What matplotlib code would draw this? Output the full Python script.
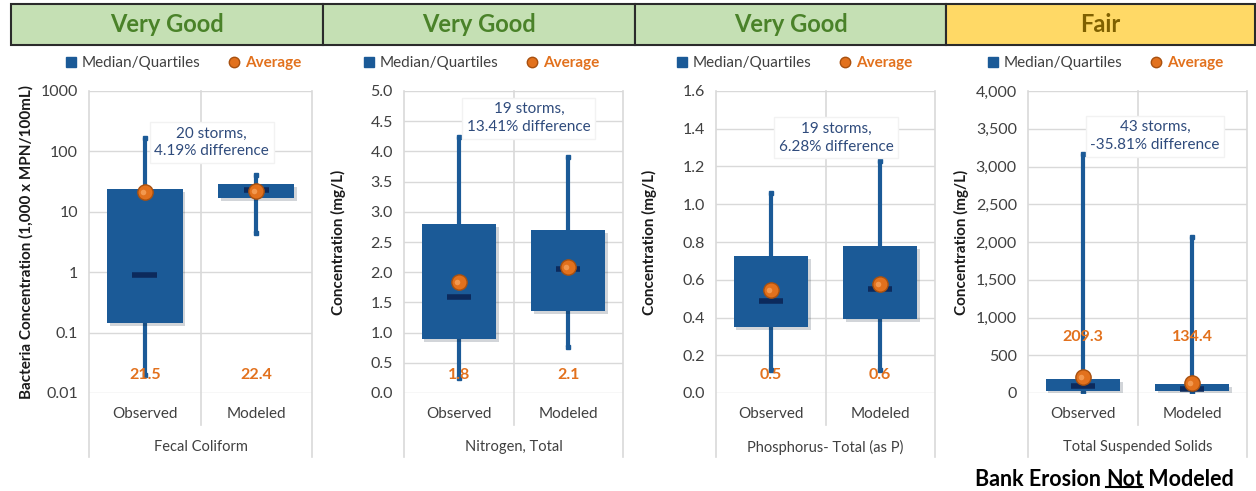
import matplotlib.pyplot as plt
import matplotlib.patheffects as pe
import matplotlib.ticker as mticker
from matplotlib.lines import Line2D
from matplotlib.patches import Rectangle

plt.rcParams['font.family'] = ['Lato', 'DejaVu Sans']

W, H = 1256, 491

# values
ratings = ["Very Good", "Very Good", "Very Good", "Fair"]
params = ["Fecal Coliform", "Nitrogen, Total", "Phosphorus- Total (as P)", "Total Suspended Solids"]
ylabels = ["Bacteria Concentration (1,000 x MPN/100mL)", "Concentration (mg/L)",
           "Concentration (mg/L)", "Concentration (mg/L)"]
storms = [20, 19, 19, 43]
pct_diff = ["4.19%", "13.41%", "6.28%", "-35.81%"]
categories = ["Observed", "Modeled"]

q1 = [[0.145, 17], [0.89, 1.36], [0.35, 0.39], [25, 25]]
median = [[0.9, 23], [1.59, 2.05], [0.49, 0.55], [90, 55]]
q3 = [[24, 29], [2.8, 2.7], [0.726, 0.78], [185, 120]]
wmin = [[0.02, 4.4], [0.25, 0.76], [0.12, 0.12], [5, 5]]
wmax = [[165, 40], [4.24, 3.9], [1.06, 1.23], [3165, 2065]]
average = [[21.5, 22.4], [1.84, 2.09], [0.545, 0.58], [209.3, 134.4]]

ylims = [(0.01, 1000), (0, 5), (0, 1.6), (0, 4000)]
ysteps = [None, 0.5, 0.2, 500]
yfmt = ["{:g}", "{:.1f}", "{:.1f}", "{:,.0f}"]

# layout in pixels
ax_x = [(89, 312), (404, 623), (716, 935), (1028, 1247)]
ax_top, ax_bot = 91, 393
head_x = [(11, 323), (323, 635), (635, 946), (946, 1255)]
head_bg = ["#C5E0B4", "#C5E0B4", "#C5E0B4", "#FFD966"]
head_fg = ["#4A8229", "#4A8229", "#4A8229", "#7F6000"]
legend_cx = [183, 481, 794, 1105]
ylab_x = [26, 338, 649, 961]
note_pos = [(0.55, 0.83), (0.57, 0.91), (0.55, 0.845), (0.58, 0.85)]
avg_lab_y = [0.06, 0.06, 0.06, 0.185]

BOX = "#1B5A97"
MED = "#0C2A5C"
ORANGE = "#E2711D"
GRID = "#D9D9D9"
TXT = "#404040"


def fx(p):
    return p / W


def fy(p):
    return 1 - p / H


fig = plt.figure(figsize=(W / 100, H / 100), dpi=100)

for i in range(4):
    # header
    x0, x1 = head_x[i]
    fig.patches.append(Rectangle((fx(x0), fy(45)), fx(x1 - x0), (45 - 4) / H,
                                 transform=fig.transFigure, facecolor=head_bg[i],
                                 edgecolor="#2B2B2B", linewidth=1.5))
    fig.text(fx((x0 + x1) / 2), fy(25), ratings[i], ha="center", va="center",
             fontsize=17, fontweight="bold", color=head_fg[i])

    a0, a1 = ax_x[i]
    ax = fig.add_axes([fx(a0), fy(ax_bot), fx(a1 - a0), (ax_bot - ax_top) / H])
    if i == 0:
        ax.set_yscale("log")
        ax.set_yticks([0.01, 0.1, 1, 10, 100, 1000])
        ax.yaxis.set_minor_locator(mticker.NullLocator())
    else:
        ax.yaxis.set_major_locator(mticker.MultipleLocator(ysteps[i]))
    ax.set_ylim(*ylims[i])
    ax.set_xlim(0, 2)
    fmt = yfmt[i]
    ax.yaxis.set_major_formatter(mticker.FuncFormatter(lambda v, p, f=fmt: f.format(v)))
    ax.tick_params(axis="y", length=0, pad=8, labelsize=11.5, labelcolor=TXT)
    ax.set_xticks([])
    for s in ax.spines.values():
        s.set_visible(False)
    ax.grid(axis="y", color=GRID, linewidth=1)
    ax.set_axisbelow(True)

    # vertical separators, running below the axis for the category labels
    for xv, yb in [(0, -0.212), (0.5, -0.106), (1, -0.212)]:
        ax.add_line(Line2D([xv, xv], [1, yb], transform=ax.transAxes, color=GRID,
                           linewidth=1.2, clip_on=False, zorder=0))

    xs = [0.5, 1.5]
    for j in range(2):
        ax.vlines(xs[j], wmin[i][j], wmax[i][j], color=BOX, linewidth=3, zorder=2)
        ax.plot([xs[j]] * 2, [wmin[i][j], wmax[i][j]], "s", color=BOX, markersize=2.5, zorder=2)
        ax.bar(xs[j], q3[i][j] - q1[i][j], bottom=q1[i][j], width=0.68, color=BOX, zorder=3,
               path_effects=[pe.SimplePatchShadow(offset=(2, -2), alpha=0.18), pe.Normal()])
        ax.hlines(median[i][j], xs[j] - 0.11, xs[j] + 0.11, color=MED, linewidth=4, zorder=4)
        ax.plot(xs[j], average[i][j], "o", color=ORANGE, markeredgecolor="#A8500F",
                markersize=11, zorder=5)
        ax.plot(xs[j] - 0.02, average[i][j], "o", color="#F7A35C", markeredgewidth=0,
                markersize=4, zorder=6, alpha=0.8)
        ax.text(xs[j] / 2, avg_lab_y[i], f"{average[i][j]:.1f}", transform=ax.transAxes,
                ha="center", va="center", fontsize=11.5, fontweight="bold", color=ORANGE, zorder=7)
        ax.text(xs[j] / 2, -0.07, categories[j], transform=ax.transAxes, ha="center",
                va="center", fontsize=11, color=TXT)
    ax.text(0.5, -0.18, params[i], transform=ax.transAxes, ha="center", va="center",
            fontsize=10.5, color=TXT)

    nx, ny = note_pos[i]
    ax.text(nx, ny, f"{storms[i]} storms,\n{pct_diff[i]} difference", transform=ax.transAxes,
            ha="center", va="center", fontsize=11, color="#2F4B7C", linespacing=1.35, zorder=8,
            bbox=dict(boxstyle="square,pad=0.3", facecolor="white", edgecolor="#F2F2F2"))

    fig.text(fx(ylab_x[i]), fy((ax_top + ax_bot) / 2), ylabels[i], rotation=90, ha="center",
             va="center", fontsize=11, fontweight="bold", color="#1A1A1A")

    handles = [Line2D([], [], marker="s", linestyle="none", color=BOX, markersize=7.5),
               Line2D([], [], marker="o", linestyle="none", color=ORANGE,
                      markeredgecolor="#A8500F", markersize=7.5)]
    leg = ax.legend(handles, ["Median/Quartiles", "Average"], loc="center", ncol=2,
                    bbox_to_anchor=(fx(legend_cx[i]), fy(63)), bbox_transform=fig.transFigure,
                    frameon=False, fontsize=11, handlelength=0.8, handletextpad=0.3,
                    columnspacing=1.8)
    leg.get_texts()[0].set_color(TXT)
    leg.get_texts()[1].set_color(ORANGE)
    leg.get_texts()[1].set_fontweight("bold")

# footnote with underlined word
fig.canvas.draw()
r = fig.canvas.get_renderer()
xpos = fx(975)
ypos = fy(479)
parts = ["Bank Erosion ", "Not", " Modeled"]
for k, part in enumerate(parts):
    t = fig.text(xpos, ypos, part, ha="left", va="center", fontsize=15.5, fontweight="bold",
                 color="black")
    bb = t.get_window_extent(r)
    if k == 1:
        fig.add_artist(Line2D([bb.x0 / W, bb.x1 / W], [bb.y0 / H + 0.006] * 2,
                              transform=fig.transFigure, color="black", linewidth=1.5))
    xpos = bb.x1 / W

fig.savefig("out.png", dpi=100)
